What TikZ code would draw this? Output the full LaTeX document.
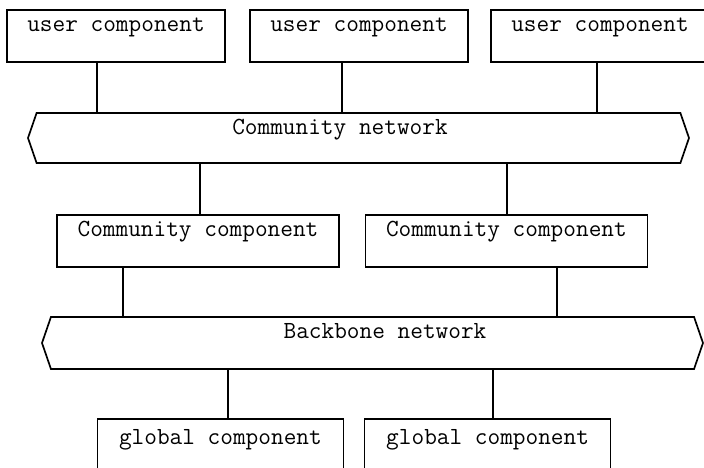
\documentclass[tikz,border=0pt]{standalone}
\usetikzlibrary{shapes.symbols}
\begin{document}
\begin{tikzpicture}[
		unitbox/.style={rectangle, draw, line width=1.2pt, inner xsep=0pt, inner ysep=0pt, text height=0.55cm, text depth=0.75cm, font=\fontsize{17.5}{20}\selectfont\ttfamily},
		netshape/.style={signal, signal to=west and east, signal pointer angle=142, draw, line width=1.2pt, minimum width=16.525cm, inner sep=0pt},
		nettext/.style={anchor=base, font=\fontsize{17.5}{20}\selectfont\ttfamily},
		link/.style={line width=1.2pt}]
		\useasboundingbox (0,0) rectangle (17.6,11.7);

		\node[unitbox, minimum width=5.45cm](user1) at (2.9,10.8){user component};
		\node[unitbox, minimum width=5.45cm](user2) at (8.975,10.8){user component};
		\node[unitbox, minimum width=5.45cm](user3) at (15.0,10.8){user component};

		\node[netshape, minimum height=1.25cm](commNet) at (8.9625,8.25){};
		\node[nettext](commNetText) at (8.5,8.325){Community network};

		\node[unitbox, minimum width=7.05cm](comm1) at (4.95,5.675){Community component};
		\node[unitbox, minimum width=7.05cm](comm2) at (12.66,5.675){Community component};

		\node[netshape, minimum height=1.3cm](backNet) at (9.3125,3.125){};
		\node[nettext](backNetText) at (9.625,3.225){Backbone network};

		\node[unitbox, minimum width=6.15cm, text height=0.65cm, text depth=0.65cm](global1) at (5.51,0.575){global component};
		\node[unitbox, minimum width=6.15cm, text height=0.65cm, text depth=0.65cm](global2) at (12.19,0.575){global component};

		\foreach \n/\x in {user1/2.425, user2/8.55, user3/14.925}
			\draw[link] (\x,0 |- \n.south) -- (\x,0 |- commNet.north);
		\foreach \n/\x in {comm1/5.0, comm2/12.675}
			\draw[link] (\x,0 |- commNet.south) -- (\x,0 |- \n.north);
		\foreach \n/\x in {comm1/3.075, comm2/13.925}
			\draw[link] (\x,0 |- \n.south) -- (\x,0 |- backNet.north);
		\foreach \n/\x in {global1/5.7, global2/12.325}
			\draw[link] (\x,0 |- backNet.south) -- (\x,0 |- \n.north);
\end{tikzpicture}
\end{document}
